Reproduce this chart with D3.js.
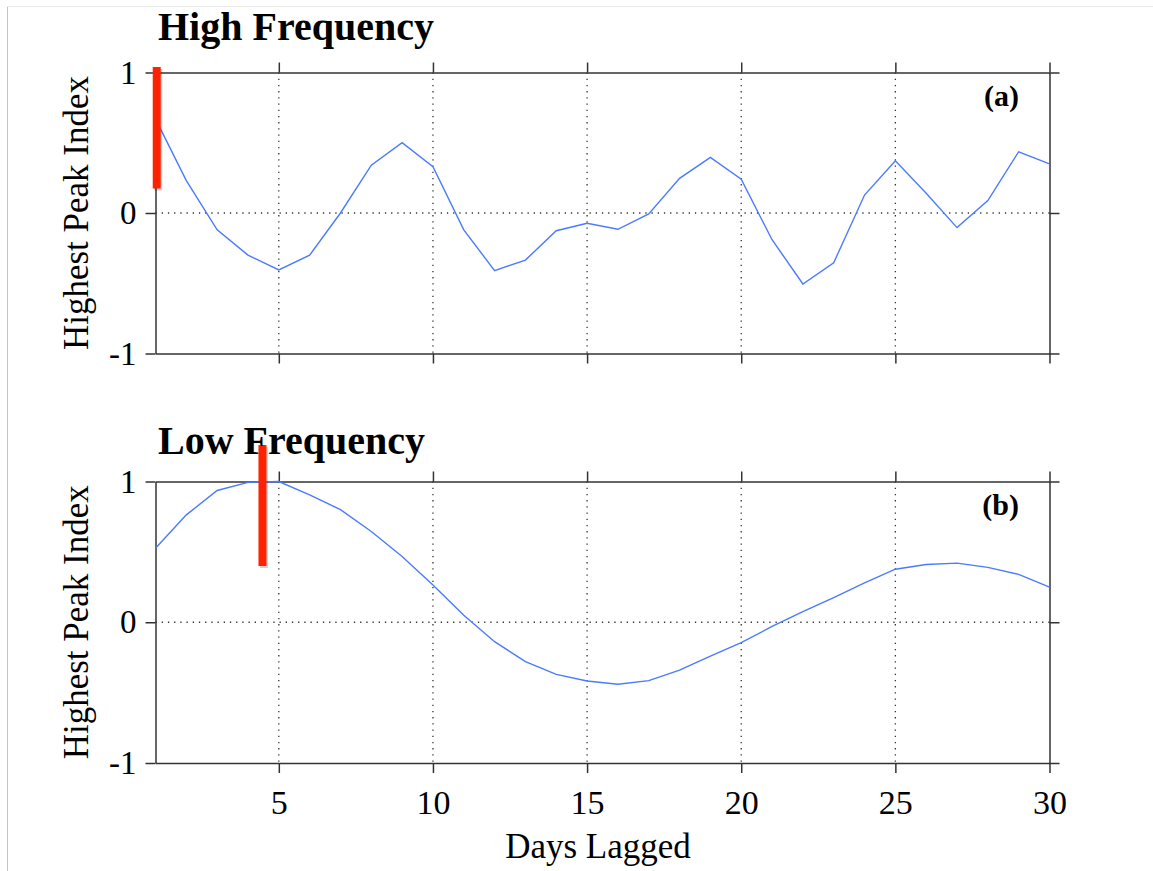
<!DOCTYPE html>
<html>
<head>
<meta charset="utf-8">
<script src="https://cdn.jsdelivr.net/npm/d3@7/dist/d3.min.js"></script>
<style>
  html, body { margin: 0; padding: 0; background: #fff; }
  svg { display: block; }
  text { font-family: "Liberation Serif", "Times New Roman", serif; fill: #000; }
</style>
</head>
<body>
<svg id="chart" width="1153" height="871"></svg>
<script>
// ---- Data ----
const days = d3.range(1, 31);
const highFreq = [0.67, 0.23, -0.12, -0.30, -0.405, -0.30, 0.00, 0.34, 0.50, 0.33,
                  -0.12, -0.41, -0.335, -0.126, -0.073, -0.116, -0.007, 0.247, 0.396, 0.24,
                  -0.19, -0.505, -0.354, 0.128, 0.372, 0.14, -0.104, 0.088, 0.436, 0.35];
const lowFreq = [0.526, 0.763, 0.936, 0.994, 1.0, 0.905, 0.80, 0.645, 0.467, 0.265,
                 0.05, -0.138, -0.28, -0.37, -0.417, -0.44, -0.415, -0.34, -0.24, -0.145,
                 -0.03, 0.075, 0.175, 0.28, 0.377, 0.41, 0.42, 0.39, 0.34, 0.25];
const panelTitles = ["High Frequency", "Low Frequency"];
const panelLabels = ["(a)", "(b)"];
const markerDay = [1.04, 4.47];
const markerLow = [0.175, 0.40];
const markerHigh = [1.04, 1.26];
const xTicks = [5, 10, 15, 20, 25, 30];
const yTicks = [-1, 0, 1];
const yLabel = "Highest Peak Index";
const xLabel = "Days Lagged";

// ---- Layout ----
const svg = d3.select("#chart");
const W = 1153, H = 871;
const x = d3.scaleLinear().domain([1, 30]).range([155.5, 1049.5]);
const panels = [
  { top: 72.5, bottom: 353.5, series: highFreq },
  { top: 481.5, bottom: 763, series: lowFreq }
];

// page frame
svg.append("line").attr("x1", 7.5).attr("x2", 7.5).attr("y1", 6).attr("y2", H)
  .attr("stroke", "#c4c4c4").attr("stroke-width", 1);
svg.append("line").attr("x1", 7).attr("x2", W).attr("y1", 6.5).attr("y2", 6.5)
  .attr("stroke", "#ebebeb").attr("stroke-width", 1);

const axisColor = "#333";
const fmt = d => String(d);

panels.forEach((p, i) => {
  const y = d3.scaleLinear().domain([-1, 1]).range([p.bottom, p.top]);
  const g = svg.append("g");

  // grid (dotted)
  g.selectAll(".vgrid").data(xTicks.filter(t => t < 30)).join("line")
    .attr("x1", d => x(d)).attr("x2", d => x(d))
    .attr("y1", y(1)).attr("y2", y(-1))
    .attr("stroke", "#333").attr("stroke-width", 1.3)
    .attr("stroke-dasharray", "1.3,4.9");
  g.append("line")
    .attr("x1", x(1)).attr("x2", x(30))
    .attr("y1", y(0)).attr("y2", y(0))
    .attr("stroke", "#333").attr("stroke-width", 1.3)
    .attr("stroke-dasharray", "1.3,4.9");

  // axes
  const styleAxis = sel => {
    sel.select(".domain").attr("stroke", axisColor).attr("stroke-width", 1.5);
    sel.selectAll(".tick line").attr("stroke", axisColor).attr("stroke-width", 1.5);
  };
  const left = g.append("g").attr("transform", `translate(${x(1)},0)`)
    .call(d3.axisLeft(y).tickValues(yTicks).tickSize(10).tickSizeOuter(0).tickPadding(9)
      .tickFormat(fmt));
  styleAxis(left);
  left.selectAll(".tick text").attr("font-size", 33)
    .attr("font-family", '"Liberation Serif", "Times New Roman", serif').attr("fill", "#000");

  const right = g.append("g").attr("transform", `translate(${x(30)},0)`)
    .call(d3.axisRight(y).tickValues(yTicks).tickSize(10).tickSizeOuter(0).tickFormat(""));
  styleAxis(right);

  const topAx = g.append("g").attr("transform", `translate(0,${y(1)})`)
    .call(d3.axisTop(x).tickValues(xTicks).tickSize(10).tickSizeOuter(0).tickFormat(""));
  styleAxis(topAx);

  const bottomAx = g.append("g").attr("transform", `translate(0,${y(-1)})`)
    .call(d3.axisBottom(x).tickValues(xTicks).tickSize(10).tickSizeOuter(0).tickPadding(17)
      .tickFormat(i === 1 ? fmt : ""));
  styleAxis(bottomAx);
  bottomAx.selectAll(".tick text").attr("font-size", 34)
    .attr("font-family", '"Liberation Serif", "Times New Roman", serif').attr("fill", "#000");

  // data line
  const line = d3.line().x((d, k) => x(days[k])).y(d => y(d));
  g.append("path").datum(p.series)
    .attr("d", line)
    .attr("fill", "none")
    .attr("stroke", "#4a7bff")
    .attr("stroke-width", 1.4);

  // title
  svg.append("text")
    .attr("x", 158).attr("y", i === 0 ? 39.5 : 453.5)
    .attr("font-size", 40).attr("font-weight", "bold")
    .text(panelTitles[i]);

  // panel label
  g.append("text")
    .attr("x", 1019).attr("y", y(1) + 33)
    .attr("text-anchor", "end")
    .attr("font-size", 30).attr("font-weight", "bold")
    .text(panelLabels[i]);

  // y label
  g.append("text")
    .attr("transform", `translate(88,${(y(1) + y(-1)) / 2}) rotate(-90)`)
    .attr("text-anchor", "middle")
    .attr("font-size", 35)
    .text(yLabel);

  // red marker (with slight shadow)
  g.append("line")
    .attr("x1", x(markerDay[i]) + 1.5).attr("x2", x(markerDay[i]) + 1.5)
    .attr("y1", y(markerHigh[i]) + 2).attr("y2", y(markerLow[i]) + 2)
    .attr("stroke", "rgba(0,0,0,0.18)").attr("stroke-width", 8);
  g.append("line")
    .attr("x1", x(markerDay[i])).attr("x2", x(markerDay[i]))
    .attr("y1", y(markerHigh[i])).attr("y2", y(markerLow[i]))
    .attr("stroke", "#ff2200").attr("stroke-width", 8);
});

// x label
svg.append("text")
  .attr("x", 598).attr("y", 858)
  .attr("text-anchor", "middle")
  .attr("font-size", 35)
  .text(xLabel);
</script>
</body>
</html>
